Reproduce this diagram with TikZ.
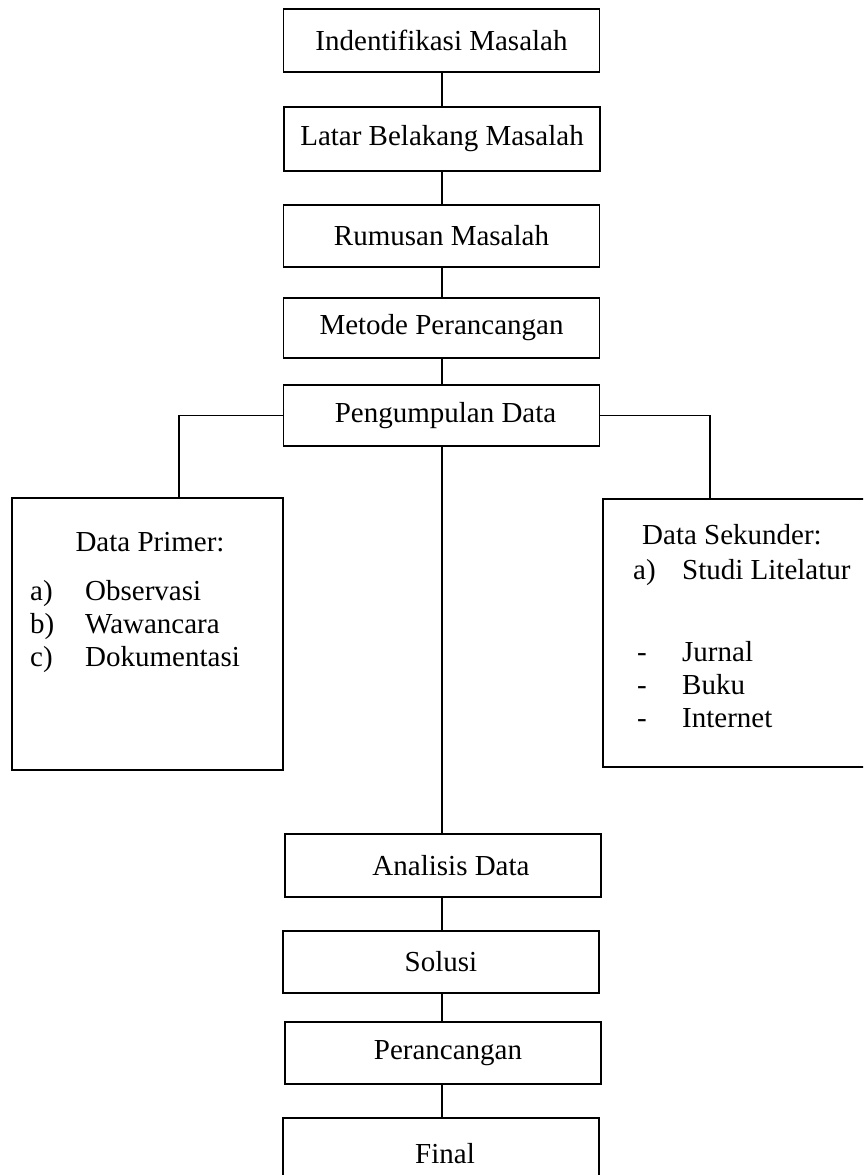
\documentclass[tikz,border=0pt]{standalone}
\usepackage{fontspec}
\setmainfont{Liberation Serif}
\begin{document}
\begin{tikzpicture}[x=1pt,y=-1pt,
  stepbox/.style={draw=black,line width=1.6pt,inner sep=0pt,minimum width=316pt,minimum height=62pt,font=\fontsize{29}{33}\selectfont},
  sidebox/.style={draw=black,line width=1.6pt,inner sep=0pt},
  conn/.style={draw=black,line width=1.2pt},
  txt/.style={inner sep=0pt,anchor=base west,font=\fontsize{29}{33}\selectfont}]
\clip (0,0) rectangle (863,1175);
\fill[white] (0,0) rectangle (863,1175);
% main column
\node[stepbox,minimum height=63pt] (b1) at (441.5,40.5) {Indentifikasi Masalah};
\node[stepbox,minimum height=64pt] (b2) at (442,139) {Latar Belakang Masalah};
\node[stepbox] (b3) at (441.5,236) {Rumusan Masalah};
\node[stepbox,minimum height=60pt] (b4) at (441.5,328) {Metode Perancangan};
\node[stepbox,minimum height=61pt] (b5) at (441.5,415.5) {\hspace*{8pt}Pengumpulan Data};
\node[stepbox,minimum height=63pt] (an) at (443,865.5) {\hspace*{16pt}Analisis Data};
\node[stepbox] (so) at (441,962) {Solusi};
\node[stepbox] (pe) at (443,1053) {\hspace*{10pt}Perancangan};
\node[stepbox,minimum height=72pt] (fi) at (441,1154) {\hspace*{8pt}Final};
% side boxes
\node[sidebox,minimum width=271pt,minimum height=272pt] (L) at (147.5,634) {};
\node[sidebox,minimum width=274pt,minimum height=268pt] (R) at (740,633) {};
% left box text
\node[inner sep=0pt,anchor=base,font=\fontsize{29}{33}\selectfont] (lt) at (150,551) {Data Primer:};
\node[txt] (la) at (30,600) {a)};
\node[txt] (lao) at (85,600) {Observasi};
\node[txt] (lb) at (30,633) {b)};
\node[txt] (lbo) at (85,633) {Wawancara};
\node[txt] (lc) at (30,666) {c)};
\node[txt] (lco) at (85,666) {Dokumentasi};
% right box text
\node[txt] (rt) at (642,544) {Data Sekunder:};
\node[txt] (ra) at (633,579) {a)};
\node[txt] (rao) at (682,579) {Studi Litelatur};
\node[txt] (r1) at (637,661) {-};
\node[txt] (r1t) at (682,661) {Jurnal};
\node[txt] (r2) at (637,694) {-};
\node[txt] (r2t) at (682,694) {Buku};
\node[txt] (r3) at (637,727) {-};
\node[txt] (r3t) at (682,727) {Internet};
% connectors (all on the column axis x = 442)
\coordinate (ax) at (442,0);
\draw[conn] (ax |- b1.south) -- (ax |- b2.north);
\draw[conn] (ax |- b2.south) -- (ax |- b3.north);
\draw[conn] (ax |- b3.south) -- (ax |- b4.north);
\draw[conn] (ax |- b4.south) -- (ax |- b5.north);
\coordinate (jl) at (179,415.5);
\coordinate (jr) at (710,415.5);
\draw[conn] (b5.west) -- (jl) -- (jl |- L.north);
\draw[conn] (b5.east) -- (jr) -- (jr |- R.north);
\draw[conn] (ax |- b5.south) -- (ax |- an.north);
\draw[conn] (ax |- an.south) -- (ax |- so.north);
\draw[conn] (ax |- so.south) -- (ax |- pe.north);
\draw[conn] (ax |- pe.south) -- (ax |- fi.north);
\end{tikzpicture}
\end{document}
